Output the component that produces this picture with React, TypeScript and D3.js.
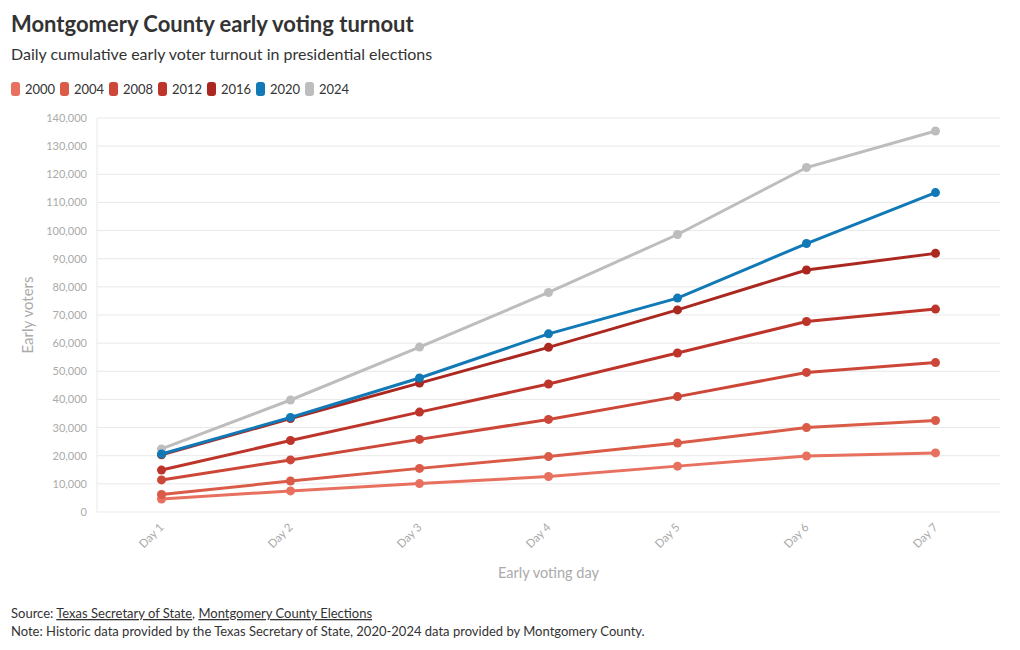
import React from "react";
import * as d3 from "d3";

const days = ["Day 1", "Day 2", "Day 3", "Day 4", "Day 5", "Day 6", "Day 7"];
const years = ["2000", "2004", "2008", "2012", "2016", "2020", "2024"];
const colors = ["#e8705e", "#d95b48", "#cc4738", "#bd352a", "#ab2820", "#1179b6", "#bdbdbd"];

const v2000 = [4600, 7500, 10100, 12600, 16300, 19900, 21000];
const v2004 = [6200, 11000, 15500, 19700, 24500, 30000, 32500];
const v2008 = [11400, 18500, 25800, 32900, 41000, 49600, 53100];
const v2012 = [14900, 25400, 35500, 45500, 56500, 67700, 72100];
const v2016 = [20300, 33200, 45800, 58500, 71800, 86000, 91900];
const v2020 = [20600, 33600, 47600, 63300, 76000, 95400, 113500];
const v2024 = [22400, 39800, 58600, 78000, 98600, 122400, 135400];
const seriesValues = [v2000, v2004, v2008, v2012, v2016, v2020, v2024];

const yTicks = [0, 10000, 20000, 30000, 40000, 50000, 60000, 70000, 80000, 90000, 100000, 110000, 120000, 130000, 140000];

const FONT = "Lato, 'Open Sans', sans-serif";

export default function App() {
  const W = 1020, H = 650;
  const left = 97, right = 1000, top = 118, bottom = 512;
  const x = d3.scalePoint<string>().domain(days).range([left, right]).padding(0.5);
  const y = d3.scaleLinear().domain([0, 140000]).range([bottom, top]);
  const fmt = d3.format(",");
  const line = d3.line<number>().x((_, i) => x(days[i]) as number).y((d) => y(d));
  const drawOrder = [6, 0, 1, 2, 3, 4, 5];
  const legendX = [11, 60, 109, 158, 207, 256, 305];

  return (
    <svg width={W} height={H} style={{ position: "absolute", left: 0, top: 0, fontFamily: FONT }}>
      <rect width={W} height={H} fill="#fff" />
      <text x={11} y={32} fontSize={22} fontWeight={700} fill="#333">Montgomery County early voting turnout</text>
      <text x={11} y={60} fontSize={16} fill="#333">Daily cumulative early voter turnout in presidential elections</text>
      {years.map((yr, i) => (
        <g key={yr}>
          <rect x={legendX[i]} y={82} width={9} height={14} rx={3} fill={colors[i]} />
          <text x={legendX[i] + 14} y={93.5} fontSize={13} fill="#333">{yr}</text>
        </g>
      ))}
      {yTicks.map((t) => (
        <g key={t}>
          <line x1={left} x2={right} y1={y(t)} y2={y(t)} stroke="#e9e9e9" strokeWidth={1} />
          <text x={87} y={y(t) + 4} fontSize={11} fill="#aaa" textAnchor="end">{fmt(t)}</text>
        </g>
      ))}
      <line x1={left} x2={left} y1={top} y2={bottom} stroke="#e9e9e9" />
      {days.map((d) => (
        <text key={d} transform={`translate(${(x(d) as number) + 3},${bottom + 16}) rotate(-45)`} fontSize={11.5} fill="#aaa" textAnchor="end">{d}</text>
      ))}
      <text transform={`translate(33,${(top + bottom) / 2}) rotate(-90)`} fontSize={15} fill="#aaa" textAnchor="middle">Early voters</text>
      <text x={(left + right) / 2} y={578} fontSize={14.5} fill="#aaa" textAnchor="middle">Early voting day</text>
      {drawOrder.map((si) => (
        <g key={years[si]}>
          <path d={line(seriesValues[si]) || ""} fill="none" stroke={colors[si]} strokeWidth={3} />
          {seriesValues[si].map((v, i) => (
            <circle key={i} cx={x(days[i]) as number} cy={y(v)} r={4.5} fill={colors[si]} />
          ))}
        </g>
      ))}
      <text x={11} y={618} fontSize={13} fill="#333">
        Source: <tspan textDecoration="underline">Texas Secretary of State</tspan>, <tspan textDecoration="underline">Montgomery County Elections</tspan>
      </text>
      <text x={11} y={636} fontSize={13} fill="#333">Note: Historic data provided by the Texas Secretary of State, 2020-2024 data provided by Montgomery County.</text>
    </svg>
  );
}
